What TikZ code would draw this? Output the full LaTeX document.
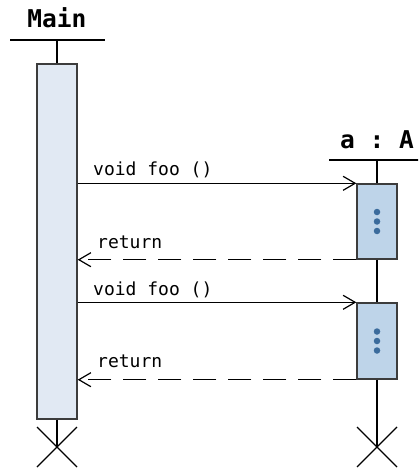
\documentclass[tikz,border=0pt]{standalone}
\usepackage{fontspec}
\setmonofont{DejaVu Sans Mono}
\usetikzlibrary{arrows.meta,calc}
\definecolor{mainfill}{HTML}{E1E9F3}
\definecolor{actfill}{HTML}{BED4E9}
\definecolor{boxline}{HTML}{3C3C3C}
\definecolor{dotblue}{HTML}{3B6B9C}
\tikzset{
  head/.style={font=\ttfamily\bfseries\fontsize{24.5}{28}\selectfont, inner sep=0pt, anchor=base},
  msg/.style={font=\ttfamily\fontsize{18}{21}\selectfont, inner sep=0pt, anchor=base west},
  headline/.style={line width=2.6pt},
  life/.style={line width=1.3pt},
  actbox/.style={draw=boxline, line width=1.4pt, inner sep=0pt, minimum width=40pt},
  call/.style={line width=1.2pt, -{Straight Barb[length=12pt,width=14pt,line width=1.2pt]}},
  reply/.style={call, dash pattern=on 23pt off 12pt},
  stop/.style={line width=1.3pt},
  dot/.style={circle, fill=dotblue, inner sep=0pt, minimum size=6.5pt}
}
\begin{document}
\begin{tikzpicture}[x=1pt,y=-1pt]
  \path[use as bounding box] (0,0) rectangle (418,468);
  \begin{scope}
  \clip (0,0) rectangle (418,468);
  % Main lifeline
  \node[head] (mainlbl) at (57,28) {Main};
  \coordinate (mainhead) at (57,40);
  \draw[headline] (10,40) -- (105,40);
  \node[actbox, fill=mainfill, minimum height=355pt] (mainact) at (57,241.5) {};
  \coordinate (mainend) at (57,447);
  \draw[life] (mainhead) -- (mainact.north);
  \draw[life] (mainact.south) -- (mainend);
  \draw[stop] ($(mainend)+(-20,-20)$) -- ($(mainend)+(20,20)$)
              ($(mainend)+(-20,20)$) -- ($(mainend)+(20,-20)$);
  % a : A lifeline
  \node[head] (albl) at (377,148) {a : A};
  \coordinate (ahead) at (377,160);
  \draw[headline] (329,160) -- (425,160);
  \node[actbox, fill=actfill, minimum height=75pt] (act1) at (377,221.5) {};
  \node[actbox, fill=actfill, minimum height=76pt] (act2) at (377,341) {};
  \coordinate (aend) at (377,447);
  \draw[life] (ahead) -- (act1.north);
  \draw[life] (act1.south) -- (act2.north);
  \draw[life] (act2.south) -- (aend);
  \draw[stop] ($(aend)+(-20,-20)$) -- ($(aend)+(20,20)$)
              ($(aend)+(-20,20)$) -- ($(aend)+(20,-20)$);
  % ellipsis marks in the activations
  \foreach \b in {act1,act2} {
    \node[dot] at ($(\b.center)+(0,-9.5)$) {};
    \node[dot] at (\b.center) {};
    \node[dot] at ($(\b.center)+(0,9.5)$) {};
  }
  % messages
  \draw[call] (mainact.east |- act1.north west) -- (act1.north west);
  \node[msg] (call1) at (93,175) {void foo ()};
  \draw[reply] (act1.south west) -- (mainact.east |- act1.south west);
  \node[msg] (ret1) at (97,248) {return};
  \draw[call] (mainact.east |- act2.north west) -- (act2.north west);
  \node[msg] (call2) at (93,295) {void foo ()};
  \draw[reply] (act2.south west) -- (mainact.east |- act2.south west);
  \node[msg] (ret2) at (97,367) {return};
  \end{scope}
\end{tikzpicture}
\end{document}
